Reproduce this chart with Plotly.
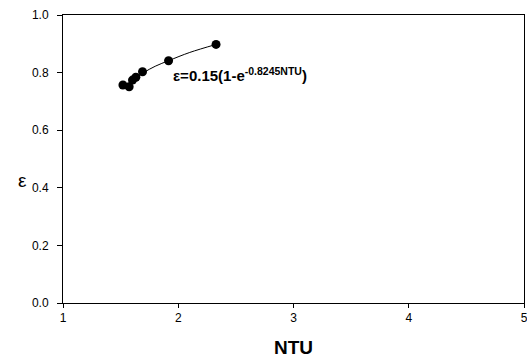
import plotly.graph_objects as go

ntu = [1.52, 1.574, 1.603, 1.632, 1.69, 1.916, 2.328]
eps = [0.757, 0.751, 0.774, 0.784, 0.803, 0.841, 0.898]

fit_ntu = [1.53, 1.60, 1.70, 1.80, 1.92, 2.10, 2.33]
fit_eps = [0.752, 0.772, 0.800, 0.822, 0.842, 0.870, 0.898]

x_ticks = [1, 2, 3, 4, 5]
y_ticks = [0.0, 0.2, 0.4, 0.6, 0.8, 1.0]

FONT = "Liberation Sans, Arial"

fig = go.Figure()
fig.add_trace(go.Scatter(x=fit_ntu, y=fit_eps, mode="lines",
                         line=dict(color="black", width=1, shape="spline"),
                         showlegend=False, hoverinfo="skip"))
fig.add_trace(go.Scatter(x=ntu, y=eps, mode="markers",
                         marker=dict(color="black", size=9),
                         showlegend=False))

fig.add_annotation(x=1.94, y=0.795, xref="x", yref="y", xanchor="left", yanchor="middle",
                   text="<b>ε=0.15(1-e<sup>-0.8245NTU</sup>)</b>", showarrow=False,
                   font=dict(family=FONT, size=15, color="black"))

# upright y-axis title
fig.add_annotation(x=-0.088, y=0.424, xref="paper", yref="paper", xanchor="center", yanchor="middle",
                   text="ε", showarrow=False,
                   font=dict(family=FONT, size=19, color="black"))

fig.update_xaxes(range=[1, 5], tickvals=x_ticks, ticktext=[str(v) for v in x_ticks],
                 showgrid=False, zeroline=False, showline=True, linecolor="black", linewidth=1,
                 mirror=True, ticks="outside", ticklen=4, tickcolor="black",
                 automargin=False, ticklabeloverflow="allow",
                 tickfont=dict(family=FONT, size=12, color="black"),
                 title=dict(text="<b>NTU</b>", standoff=16,
                            font=dict(family=FONT, size=19, color="black")))
fig.update_yaxes(range=[0, 1], tickvals=y_ticks, ticktext=[f"{v:.1f}" for v in y_ticks],
                 showgrid=False, zeroline=False, showline=True, linecolor="black", linewidth=1,
                 mirror=True, ticks="outside", ticklen=5, tickcolor="black",
                 automargin=False, ticklabelstandoff=6,
                 tickfont=dict(family=FONT, size=12, color="black"))

fig.update_layout(width=527, height=359, plot_bgcolor="white", paper_bgcolor="white",
                  margin=dict(l=63, r=3, t=15, b=56))

fig.write_html("out.html")
